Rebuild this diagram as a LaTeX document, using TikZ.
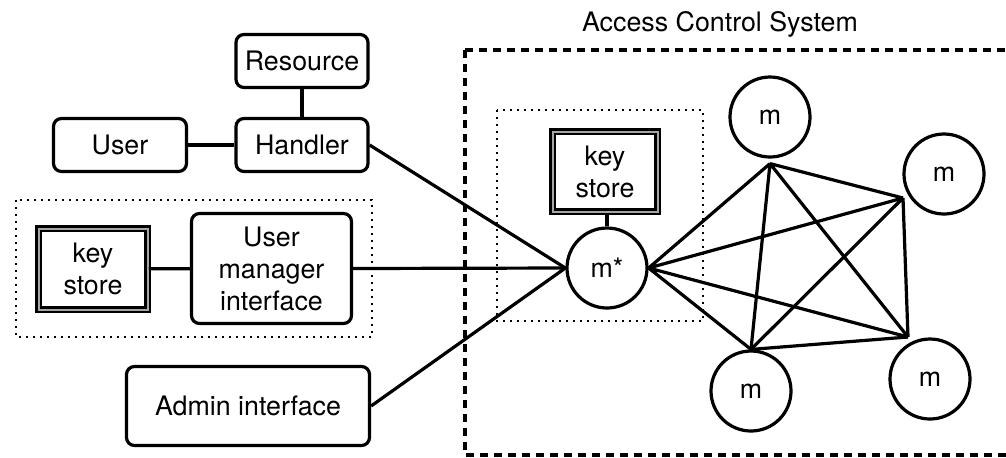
\documentclass[tikz,border=0pt]{standalone}
\usepackage{fontspec}
\setmainfont{TeX Gyre Heros}
\begin{document}
\begin{tikzpicture}[x=0.5pt,y=-0.5pt,
    every node/.style={font=\fontsize{13.4pt}{16pt}\selectfont},
    boite/.style={draw, line width=1.6pt, rounded corners=4pt, inner sep=0pt, align=center},
    cle/.style={draw, double=black!35, line width=1.25pt, double distance=1pt, inner sep=0pt, align=center},
    membre/.style={draw, circle, line width=1.6pt, minimum size=40pt, inner sep=0pt},
    lien/.style={line width=1.6pt},
    pointille/.style={line width=1.4pt, dash pattern=on 1.2pt off 2.3pt},
    tirets/.style={line width=1.6pt, dash pattern=on 4pt off 3pt}]
    \clip (0,0) rectangle (1006,457);

    % Le système de contrôle d'accès (cadre en tirets)
    \draw[tirets] (465,50) rectangle (1030,455);
    \node (ACS) at (720,24) {Access Control System};

    % Les groupes (cadres pointillés)
    \draw[pointille] (16,200) rectangle (372,337);
    \draw[pointille] (497,110) rectangle (703,321);

    % Les boîtes à gauche
    \node[boite, minimum width=66pt, minimum height=26.5pt] (R) at (302,61) {Resource};
    \node[boite, minimum width=66pt, minimum height=26.5pt] (H) at (302,145) {Handler};
    \node[boite, minimum width=66.5pt, minimum height=26.5pt] (U) at (120,145) {User};
    \node[cle, minimum width=54.5pt, minimum height=40.5pt] (K1) at (93,269) {key\\store};
    \node[boite, minimum width=80pt, minimum height=55pt] (UM) at (271.5,268.5) {User\\manager\\interface};
    \node[boite, minimum width=121.5pt, minimum height=39.5pt] (AI) at (248,406) {Admin interface};

    % Les membres (cercles)
    \node[membre] (M0) at (607,268) {m*};
    \node[cle, minimum width=52.5pt, minimum height=40pt] (K2) at (605,171.5) {key\\store};
    \node[membre] (M1) at (770,117) {m};
    \node[membre] (M2) at (944,174) {m};
    \node[membre] (M3) at (751,391) {m};
    \node[membre] (M4) at (930,379) {m};

    % Points d'attache du graphe complet
    \coordinate (A0) at (M0.east);
    \coordinate (A1) at ([yshift=-2.5pt]M1.south);
    \coordinate (A2) at ([shift={(-20.5pt,-12pt)}]M2.center);
    \coordinate (A3) at (M3.north);
    \coordinate (A4) at ([shift={(-11pt,21pt)}]M4.center);

    % Liaisons à gauche
    \draw[lien] (R) -- (H);
    \draw[lien] (U) -- (H);
    \draw[lien] (K1) -- (UM);
    \draw[lien] (K2.south -| M0.north) -- (M0.north);
    \draw[lien] (H.east) -- (M0.west);
    \draw[lien] (UM.east) -- (M0.west);
    \draw[lien] (AI.east) -- (M0.west);

    % Graphe complet entre les membres
    \draw[lien] (A0) -- (A1) (A0) -- (A2) (A0) -- (A3) (A0) -- (A4);
    \draw[lien] (A1) -- (A2) (A1) -- (A3) (A1) -- (A4);
    \draw[lien] (A2) -- (A3) (A2) -- (A4);
    \draw[lien] (A3) -- (A4);
\end{tikzpicture}
\end{document}
